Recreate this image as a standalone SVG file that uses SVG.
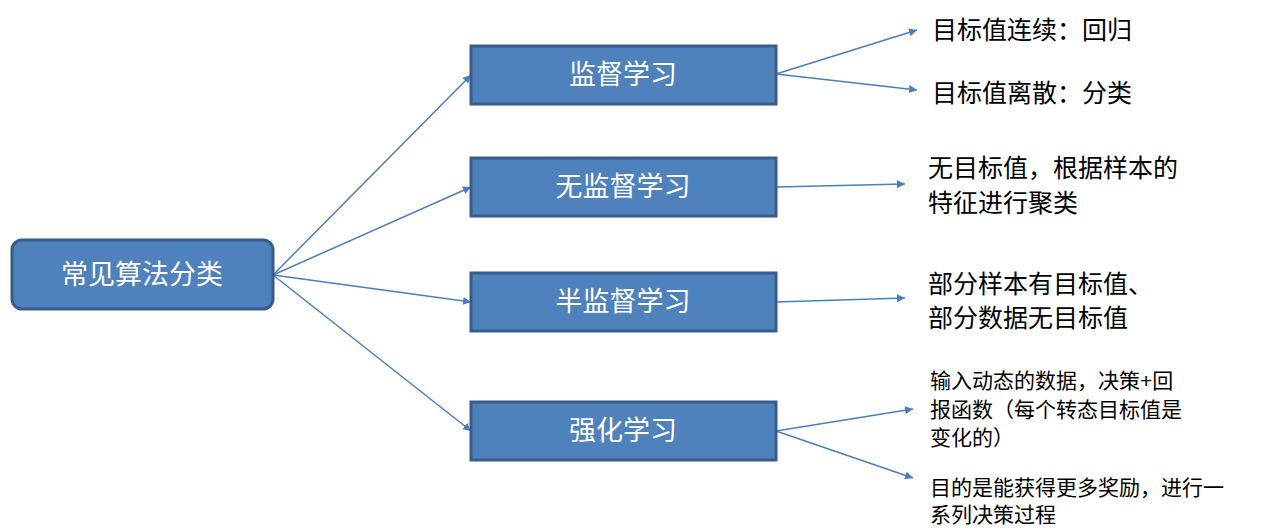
<svg xmlns="http://www.w3.org/2000/svg" width="1277" height="532" viewBox="0 0 1277 532">
<style>
.n{fill:#4F81BD;stroke:#385D8A;stroke-width:3}
.nt{fill:#fff;font-family:"Liberation Sans","Noto Sans CJK SC",sans-serif;font-size:27px;text-anchor:middle;dominant-baseline:central}
.t{fill:#000;font-family:"Liberation Sans","Noto Sans CJK SC",sans-serif;font-size:25px}
.s{font-size:21px}
.c line{stroke:#4A7EBB;stroke-width:1.5;marker-end:url(#a)}
</style>
<defs><marker id="a" viewBox="0 0 10 10" refX="10" refY="5" markerWidth="8" markerHeight="8" markerUnits="userSpaceOnUse" orient="auto"><path d="M0,0L10,5L0,10z" fill="#4A7EBB"/></marker></defs>
<rect width="1277" height="532" fill="#fff"/>
<g class="c">
<line x1="273" y1="275" x2="471" y2="75"/>
<line x1="273" y1="275" x2="471" y2="187"/>
<line x1="273" y1="275" x2="471" y2="302"/>
<line x1="273" y1="275" x2="471" y2="431"/>
<line x1="776" y1="74" x2="917" y2="30"/>
<line x1="776" y1="74" x2="917" y2="90"/>
<line x1="776" y1="187" x2="905" y2="184"/>
<line x1="776" y1="302" x2="905" y2="298"/>
<line x1="776" y1="431" x2="913" y2="409"/>
<line x1="776" y1="431" x2="913" y2="478"/>
</g>
<g id="root"><rect class="n" x="12" y="240" width="261" height="69" rx="10"/><text class="nt" x="142" y="275">常见算法分类</text></g>
<g id="sup"><rect class="n" x="471" y="46" width="305" height="58"/><text class="nt" x="623" y="75">监督学习</text></g>
<g id="unsup"><rect class="n" x="471" y="158" width="305" height="58"/><text class="nt" x="623" y="187">无监督学习</text></g>
<g id="semi"><rect class="n" x="471" y="273" width="305" height="58"/><text class="nt" x="623" y="302">半监督学习</text></g>
<g id="rl"><rect class="n" x="471" y="402" width="305" height="58"/><text class="nt" x="623" y="431">强化学习</text></g>
<g id="l1"><text class="t" x="932" y="39">目标值连续：回归</text></g>
<g id="l2"><text class="t" x="932" y="102">目标值离散：分类</text></g>
<g id="l3"><text class="t" x="928" y="177">无目标值，根据样本的</text><text class="t" x="928" y="212">特征进行聚类</text></g>
<g id="l4"><text class="t" x="928" y="293">部分样本有目标值、</text><text class="t" x="928" y="327">部分数据无目标值</text></g>
<g id="l5"><text class="t s" x="930" y="388">输入动态的数据，决策+回</text><text class="t s" x="930" y="417">报函数（每个转态目标值是</text><text class="t s" x="930" y="445">变化的）</text></g>
<g id="l6"><text class="t s" x="930" y="495">目的是能获得更多奖励，进行一</text><text class="t s" x="930" y="522">系列决策过程</text></g>
</svg>
